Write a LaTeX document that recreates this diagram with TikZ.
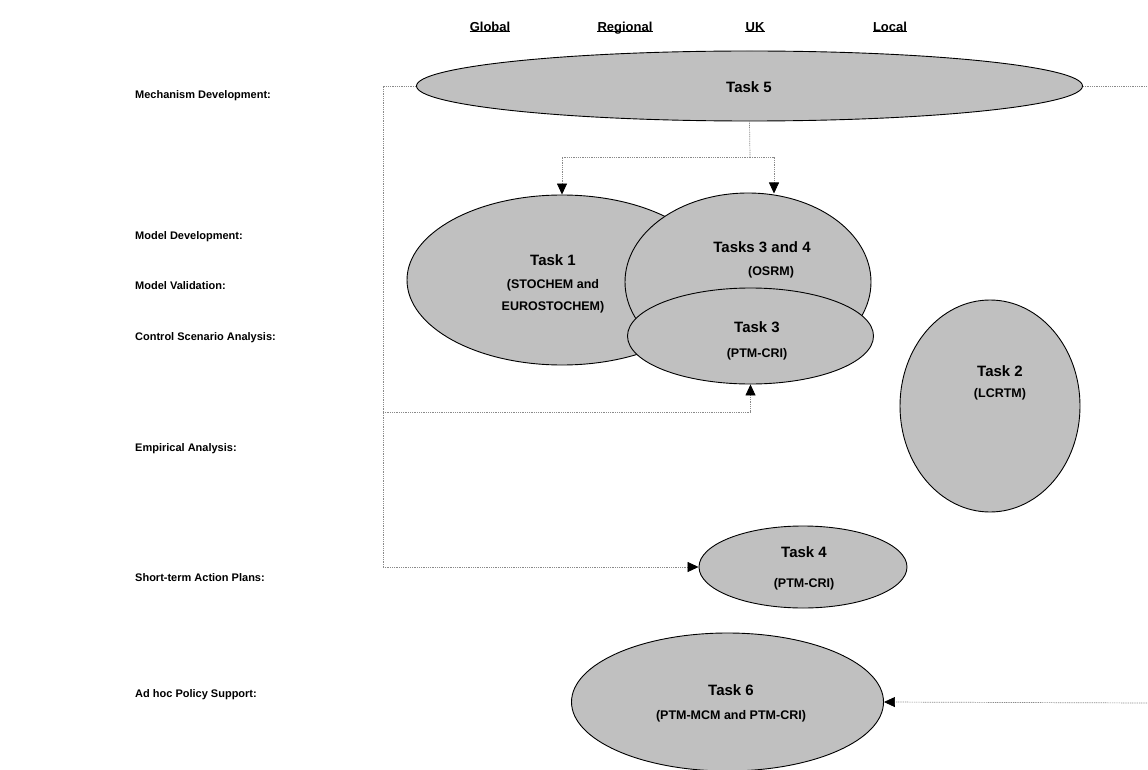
\documentclass[tikz,border=0pt]{standalone}
\usepackage{fontspec}
\setmainfont{Liberation Sans}
\usetikzlibrary{shapes.geometric,arrows.meta}
\definecolor{taskfill}{HTML}{C0C0C0}
\definecolor{linkgray}{HTML}{8A8A8A}
\begin{document}
\begin{tikzpicture}[x=1pt,y=-1pt,
  task/.style={ellipse,draw=black,line width=0.9pt,fill=taskfill,inner sep=0pt},
  ttl/.style={anchor=base,inner sep=0pt,font=\bfseries\fontsize{15}{17}\selectfont},
  sub/.style={anchor=base,inner sep=0pt,font=\bfseries\fontsize{12.5}{14}\selectfont},
  lbl/.style={anchor=base west,inner sep=0pt,font=\bfseries\fontsize{11}{13}\selectfont},
  hdr/.style={anchor=base,inner sep=0pt,font=\bfseries\fontsize{13}{15}\selectfont},
  link/.style={draw=linkgray,line width=0.7pt,dash pattern=on 1pt off 0.8pt},
  tip/.style={-{Triangle[length=11pt,width=10pt,color=black]}},
]
\useasboundingbox (0,0) rectangle (1148,770);
\clip (0,0) rectangle (1148,770);

% header
\node[hdr] (hg) at (490,32) {Global};
\node[hdr] (hr) at (625,32) {Regional};
\node[hdr] (hu) at (755,32) {UK};
\node[hdr] (hl) at (890,32) {Local};
\foreach \h in {hg,hr,hu,hl}
  \draw[line width=0.9pt] ([yshift=1pt]\h.base west) -- ([yshift=1pt]\h.base east);

% row labels
\node[lbl] (l1) at (135,99) {Mechanism Development:};
\node[lbl] (l2) at (135,239) {Model Development:};
\node[lbl] (l3) at (135,289) {Model Validation:};
\node[lbl] (l4) at (135,340) {Control Scenario Analysis:};
\node[lbl] (l5) at (135,451) {Empirical Analysis:};
\node[lbl] (l6) at (135,581) {Short-term Action Plans:};
\node[lbl] (l7) at (135,697) {Ad hoc Policy Support:};

% task ellipses
\node[task,minimum width=666pt,minimum height=70pt] (t5) at (749.5,86) {};
\node[task,minimum width=310pt,minimum height=170pt] (t1) at (562,280) {};
\node[task,minimum width=246pt,minimum height=178pt] (t34) at (748,282) {};
\node[task,minimum width=246pt,minimum height=96pt] (t3) at (750.5,336) {};
\node[task,minimum width=180pt,minimum height=212pt] (t2) at (990,406) {};
\node[task,minimum width=208pt,minimum height=82pt] (t4) at (803,567) {};
\node[task,minimum width=312pt,minimum height=138pt] (t6) at (727.5,702) {};

% task texts
\node[ttl] (x5) at (749,93) {Task 5};
\node[ttl] (x1a) at (553,265) {Task 1};
\node[sub] (x1b) at (553,288) {(STOCHEM and};
\node[sub] (x1c) at (553,310) {EUROSTOCHEM)};
\node[ttl] (x34a) at (762,252) {Tasks 3 and 4};
\node[sub] (x34b) at (771,275) {(OSRM)};
\node[ttl] (x3a) at (757,332) {Task 3};
\node[sub] (x3b) at (757,357) {(PTM-CRI)};
\node[ttl] (x2a) at (1000,376) {Task 2};
\node[sub] (x2b) at (1000,397) {(LCRTM)};
\node[ttl] (x4a) at (804,557) {Task 4};
\node[sub] (x4b) at (804,587) {(PTM-CRI)};
\node[ttl] (x6a) at (731,695) {Task 6};
\node[sub] (x6b) at (731,719) {(PTM-MCM and PTM-CRI)};

% connector junctions
\coordinate (lt) at (383,86);
\coordinate (lm) at (383,412);
\coordinate (lb) at (383,567);
\coordinate (tj) at (750,157);
\coordinate (rt) at (1149,86);
\coordinate (rb) at (1149,703);

% connectors
\draw[link] (t5.south) -- (tj);
\draw[link,tip] (tj) -| (t1.north);
\draw[link,tip] (tj) -- (774,157) -- (774,193.5);
\draw[link] (t5.west) -- (lt) -- (lb);
\draw[link,tip] (lb) -- (t4.west);
\draw[link,tip] (lm) -| (t3.south);
\draw[link] (t5.east) -- (rt) -- (rb);
\draw[link,tip] (rb) -- (t6.east);
\end{tikzpicture}
\end{document}
